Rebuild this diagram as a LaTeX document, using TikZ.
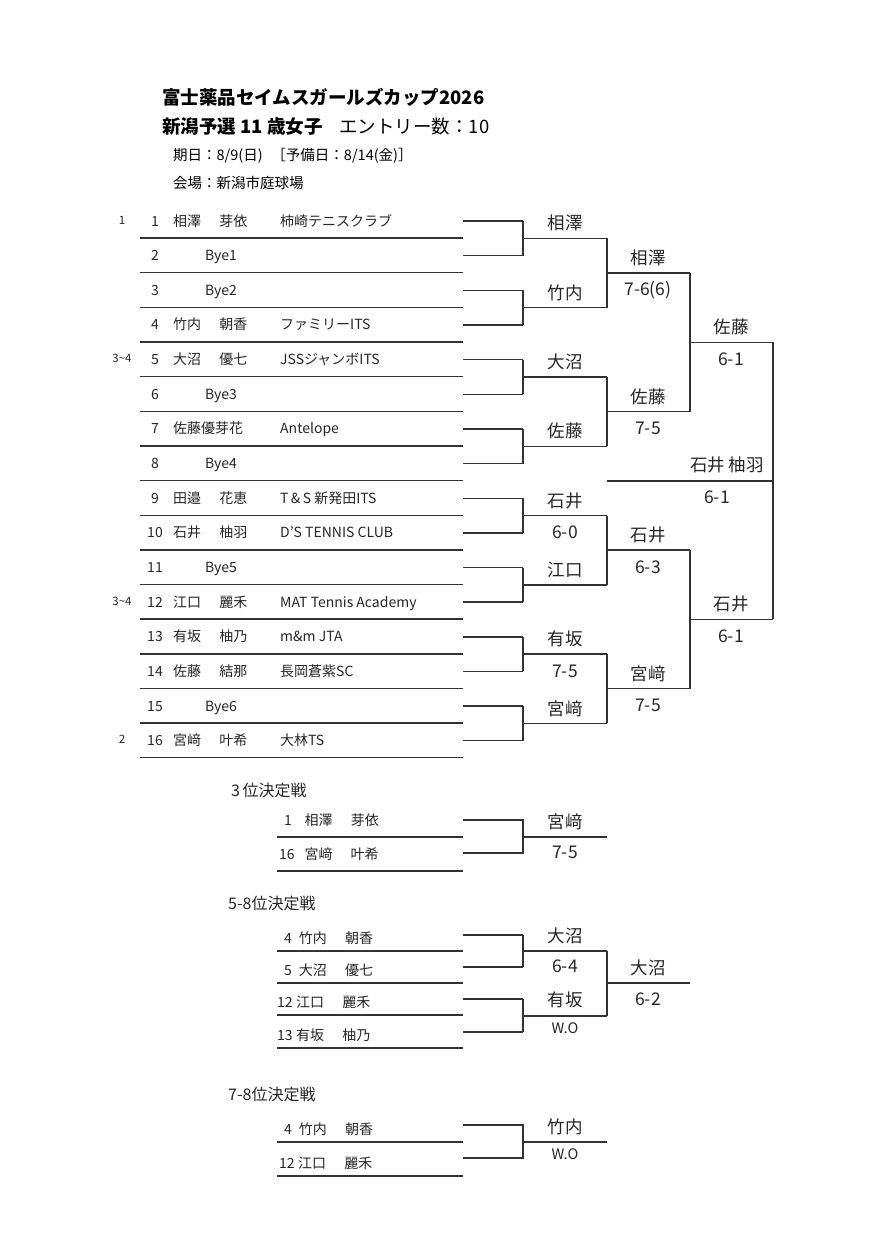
\documentclass[tikz,border=0pt]{standalone}
\usepackage{fontspec}
\setmainfont{Noto Sans CJK JP}
\newcommand{\gp}{\hspace{1.3em}}
\begin{document}
\begin{tikzpicture}[x=1pt,y=-1pt,
  ln/.style={line width=1.4pt,draw=black!80},
  row/.style={font=\fontsize{14}{14}\selectfont,text=black!85,inner sep=0pt,text height=10pt,text depth=3pt,yshift=-2.5pt},
  seed/.style={font=\fontsize{11.5}{11}\selectfont,text=black!85,inner sep=0pt},
  win/.style={font=\fontsize{17.5}{17}\selectfont,text=black!85,inner sep=0pt},
  ttl/.style={font=\fontsize{16}{16}\selectfont,text=black!85,inner sep=0pt,anchor=west}]
\useasboundingbox (0,0) rectangle (890,1258);
\fill[white] (0,0) rectangle (890,1258);
% header
\node[anchor=west,inner sep=0pt,font=\fontsize{18.5}{18}\selectfont\bfseries] (h1) at (162,97) {富士薬品セイムスガールズカップ2026};
\node[anchor=west,inner sep=0pt,font=\fontsize{18.5}{18}\selectfont] (h2) at (162,127) {\textbf{新潟予選 11 歳女子}\hspace{0.9em}エントリー数：10};
\node[anchor=west,inner sep=0pt,font=\fontsize{14.5}{14}\selectfont] (h3) at (173,156) {期日：8/9(日)\hspace{0.6em}［予備日：8/14(金)］};
\node[anchor=west,inner sep=0pt,font=\fontsize{14.5}{14}\selectfont] (h4) at (173,183) {会場：新潟市庭球場};
% player rows
\foreach \i/\cl/\sd in {1/柿崎テニスクラブ/1, 2/{}/{}, 3/{}/{}, 4/ファミリーITS/{}, 5/JSSジャンボITS/3\textasciitilde4, 6/{}/{}, 7/Antelope/{}, 8/{}/{}, 9/T\,\&\,S 新発田ITS/{}, 10/D'S TENNIS CLUB/{}, 11/{}/{}, 12/MAT Tennis Academy/3\textasciitilde4, 13/m\&m JTA/{}, 14/長岡蒼紫SC/{}, 15/{}/{}, 16/大林TS/2}{
  \pgfmathsetmacro\yy{220+(\i-1)*34.65}
  \node[row] (n\i) at (155,\yy) {\i};
  \node[row,anchor=west] (c\i) at (280,\yy) {\cl};
  \node[seed] (s\i) at (122,\yy) {\sd};
  \draw[ln] (140,\yy+18) -- (463,\yy+18);
  \draw[ln] (463,\yy+1) -- (523,\yy+1);
}
\node[row,anchor=west] at (173,220) {相澤\gp 芽依};
\node[row,anchor=west] at (173,323.95) {竹内\gp 朝香};
\node[row,anchor=west] at (173,358.6) {大沼\gp 優七};
\node[row,anchor=west] at (173,427.9) {佐藤優芽花};
\node[row,anchor=west] at (173,497.2) {田邉\gp 花恵};
\node[row,anchor=west] at (173,531.85) {石井\gp 柚羽};
\node[row,anchor=west] at (173,601.15) {江口\gp 麗禾};
\node[row,anchor=west] at (173,635.8) {有坂\gp 柚乃};
\node[row,anchor=west] at (173,670.45) {佐藤\gp 結那};
\node[row,anchor=west] at (173,739.75) {宮﨑\gp 叶希};
\node[row,anchor=west] at (205,254.65) {Bye1};
\node[row,anchor=west] at (205,289.3) {Bye2};
\node[row,anchor=west] at (205,393.25) {Bye3};
\node[row,anchor=west] at (205,462.55) {Bye4};
\node[row,anchor=west] at (205,566.5) {Bye5};
\node[row,anchor=west] at (205,705.1) {Bye6};
% round 1
\foreach \m/\w/\s in {1/相澤/{},2/竹内/{},3/大沼/{},4/佐藤/{},5/石井/6-0,6/江口/{},7/有坂/7-5,8/宮﨑/{}}{
  \pgfmathsetmacro\ya{220+(2*\m-2)*34.65+1}
  \pgfmathsetmacro\yb{\ya+34.65}
  \pgfmathsetmacro\ym{(\ya+\yb)/2}
  \draw[ln] (523,\ya) -- (523,\yb);
  \draw[ln] (523,\ym) -- (607,\ym);
  \node[win] (w1\m) at (565,\ym-15) {\w};
  \node[win] (r1\m) at (565,\ym+17) {\s};
}
% round 2
\foreach \r/\w/\s in {1/相澤/7-6(6),2/佐藤/7-5,3/石井/6-3,4/宮﨑/7-5}{
  \pgfmathsetmacro\ya{238.3+(2*\r-2)*69.3}
  \pgfmathsetmacro\yb{\ya+69.3}
  \pgfmathsetmacro\ym{(\ya+\yb)/2}
  \draw[ln] (607,\ya) -- (607,\yb);
  \draw[ln] (607,\ym) -- (690,\ym);
  \node[win] (w2\r) at (648,\ym-15) {\w};
  \node[win] (r2\r) at (648,\ym+17) {\s};
}
% round 3
\foreach \r/\w/\s in {1/佐藤/6-1,2/石井/6-1}{
  \pgfmathsetmacro\ya{272.95+(2*\r-2)*138.6}
  \pgfmathsetmacro\yb{\ya+138.6}
  \pgfmathsetmacro\ym{(\ya+\yb)/2}
  \draw[ln] (690,\ya) -- (690,\yb);
  \draw[ln] (690,\ym) -- (773,\ym);
  \node[win] (w3\r) at (731,\ym-15) {\w};
  \node[win] (r3\r) at (731,\ym+17) {\s};
}
\draw[ln] (773,342.25) -- (773,619.45);
\draw[ln] (607,480.85) -- (773,480.85);
\node[win] (champ) at (727,465) {石井 柚羽};
\node[win] (champs) at (717,497) {6-1};
% 3rd place
\node[ttl] (t3) at (231,790) {3\,位決定戦};
\node[row,anchor=west] at (284,819) {1\hspace{0.9em}相澤\gp 芽依};
\node[row,anchor=west] at (279,853) {16\hspace{0.7em}宮﨑\gp 叶希};
\draw[ln] (277,837) -- (463,837);
\draw[ln] (277,871) -- (463,871);
\draw[ln] (463,820) -- (523,820) -- (523,853) -- (463,853);
\draw[ln] (523,837) -- (607,837);
\node[win] at (565,822) {宮﨑};
\node[win] at (565,852) {7-5};
% 5-8
\node[ttl] (t58) at (228,903) {5-8位決定戦};
\foreach \yy/\tx in {937/4\hspace{0.5em}竹内\gp 朝香, 969/5\hspace{0.5em}大沼\gp 優七, 1001/{\hspace{-0.5em}12\hspace{0.25em}江口\gp 麗禾}, 1034/{\hspace{-0.5em}13\hspace{0.25em}有坂\gp 柚乃}}{
  \node[row,anchor=west] at (284,\yy) {\tx};
  \draw[ln] (277,\yy+14) -- (463,\yy+14);
  \draw[ln] (463,\yy-2) -- (523,\yy-2);
}
\draw[ln] (523,935) -- (523,967);
\draw[ln] (523,999) -- (523,1032);
\draw[ln] (523,951) -- (607,951);
\draw[ln] (523,1016) -- (607,1016);
\draw[ln] (607,951) -- (607,1016);
\draw[ln] (607,983) -- (690,983);
\node[win] at (565,936) {大沼};
\node[win] at (565,966) {6-4};
\node[win] at (565,1000) {有坂};
\node[win,font=\fontsize{14.5}{14}\selectfont] at (565,1028) {W.O};
\node[win] at (648,968) {大沼};
\node[win] at (648,999) {6-2};
% 7-8
\node[ttl] (t78) at (228,1094) {7-8位決定戦};
\node[row,anchor=west] at (284,1128) {4\hspace{0.5em}竹内\gp 朝香};
\node[row,anchor=west] at (279,1162) {12\hspace{0.25em}江口\gp 麗禾};
\draw[ln] (277,1142) -- (463,1142);
\draw[ln] (277,1176) -- (463,1176);
\draw[ln] (463,1125) -- (523,1125) -- (523,1158) -- (463,1158);
\draw[ln] (523,1142) -- (607,1142);
\node[win] at (565,1127) {竹内};
\node[win,font=\fontsize{14.5}{14}\selectfont] at (565,1154) {W.O};
\end{tikzpicture}
\end{document}
